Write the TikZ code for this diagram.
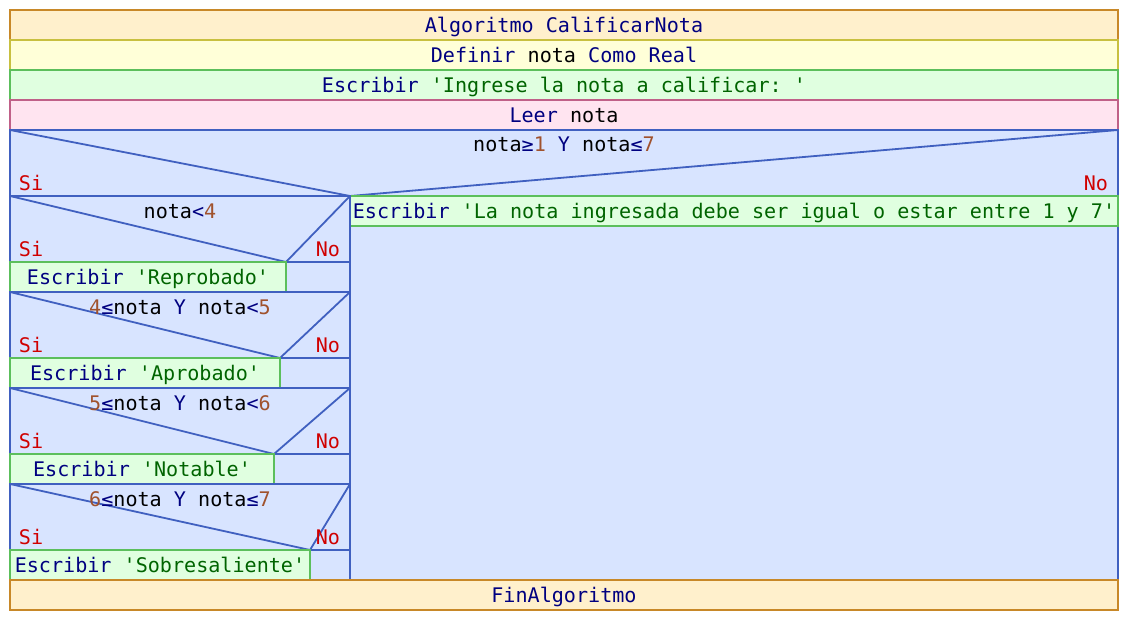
\documentclass[tikz,border=0pt]{standalone}
\usepackage{fontspec}
\setmonofont{DejaVu Sans Mono}
\definecolor{algf}{HTML}{FFF0CC}
\definecolor{algd}{HTML}{C88828}
\definecolor{deff}{HTML}{FFFFD8}
\definecolor{defd}{HTML}{C8C040}
\definecolor{escf}{HTML}{E0FFE0}
\definecolor{escd}{HTML}{5CBF5C}
\definecolor{leef}{HTML}{FFE4F0}
\definecolor{leed}{HTML}{C06088}
\definecolor{iff}{HTML}{D8E4FF}
\definecolor{ifd}{HTML}{4060C0}
\definecolor{kwc}{HTML}{000080}
\definecolor{strc}{HTML}{006400}
\definecolor{numc}{HTML}{A0522D}
\definecolor{snc}{HTML}{D00000}
\newcommand\kwd[1]{\textcolor{kwc}{#1}}
\newcommand\strg[1]{\textcolor{strc}{#1}}
\newcommand\nmb[1]{\textcolor{numc}{#1}}
\newcommand\sno[1]{\textcolor{snc}{#1}}
\begin{document}
\begin{tikzpicture}[x=1pt,y=-1pt,line width=2pt,
  txt/.style={font=\ttfamily\fontsize{20.1}{22}\selectfont,inner sep=0pt,outer sep=0pt,text height=17pt,text depth=2pt},
  box/.style={txt,draw=#1d,fill=#1f,anchor=north west,minimum height=30pt},
  diag/.style={draw=ifd,line width=1.8pt}]
\useasboundingbox (0,0) rectangle (1128,620);
% top rows
\node[box=alg,minimum width=1108pt] (alg) at (10,10) {\kwd{Algoritmo CalificarNota}};
\node[box=def,minimum width=1108pt] (def) at (10,40) {\kwd{Definir} nota \kwd{Como Real}};
\node[box=esc,minimum width=1108pt] (esc1) at (10,70) {\kwd{Escribir} \strg{'Ingrese la nota a calificar: '}};
\node[box=lee,minimum width=1108pt] (leer) at (10,100) {\kwd{Leer} nota};
% outer if
\node[draw=ifd,fill=iff,anchor=north west,minimum width=1108pt,minimum height=450pt,inner sep=0pt,outer sep=0pt] (if0) at (10,130) {};
\coordinate (m0) at (350,196);
\draw[diag] (if0.north west) -- (m0);
\draw[diag] (if0.north east) -- (m0);
\node[txt] (c0) at (564,144) {nota\kwd{≥}\nmb{1} \kwd{Y} nota\kwd{≤}\nmb{7}};
\node[txt,anchor=west] (si0) at (19,183) {\sno{Si}};
\node[txt,anchor=east] (no0) at (1108,183) {\sno{No}};
\node[box=esc,minimum width=768pt] (escno) at (350,196) {\kwd{Escribir} \strg{'La nota ingresada debe ser igual o estar entre 1 y 7'}};
% nested ifs
\foreach \t/\s/\n/\cond/\msg in {
  196/286/1/{nota\kwd{<}\nmb{4}}/{Reprobado},
  292/280/2/{\nmb{4}\kwd{≤}nota \kwd{Y} nota\kwd{<}\nmb{5}}/{Aprobado},
  388/274/3/{\nmb{5}\kwd{≤}nota \kwd{Y} nota\kwd{<}\nmb{6}}/{Notable},
  484/310/4/{\nmb{6}\kwd{≤}nota \kwd{Y} nota\kwd{≤}\nmb{7}}/{Sobresaliente}}{
  \node[draw=ifd,fill=iff,anchor=north west,minimum width=340pt,minimum height=96pt,inner sep=0pt,outer sep=0pt] (if\n) at (10,\t) {};
  \coordinate (m\n) at (\s,\t+66);
  \coordinate (r\n) at (350,\t+66);
  \draw[diag] (if\n.north west) -- (m\n);
  \draw[diag] (if\n.north east) -- (m\n);
  \draw[draw=ifd] (m\n) -- (r\n);
  \node[txt] (c\n) at (180,\t+15) {\cond};
  \node[txt,anchor=west] (si\n) at (19,\t+53) {\sno{Si}};
  \node[txt,anchor=east] (no\n) at (340,\t+53) {\sno{No}};
  \node[box=esc,minimum width={\s-10}] (e\n) at (10,\t+66) {\kwd{Escribir} \strg{'\msg'}};
}
% end
\node[box=alg,minimum width=1108pt] (fin) at (10,580) {\kwd{FinAlgoritmo}};
\end{tikzpicture}
\end{document}
